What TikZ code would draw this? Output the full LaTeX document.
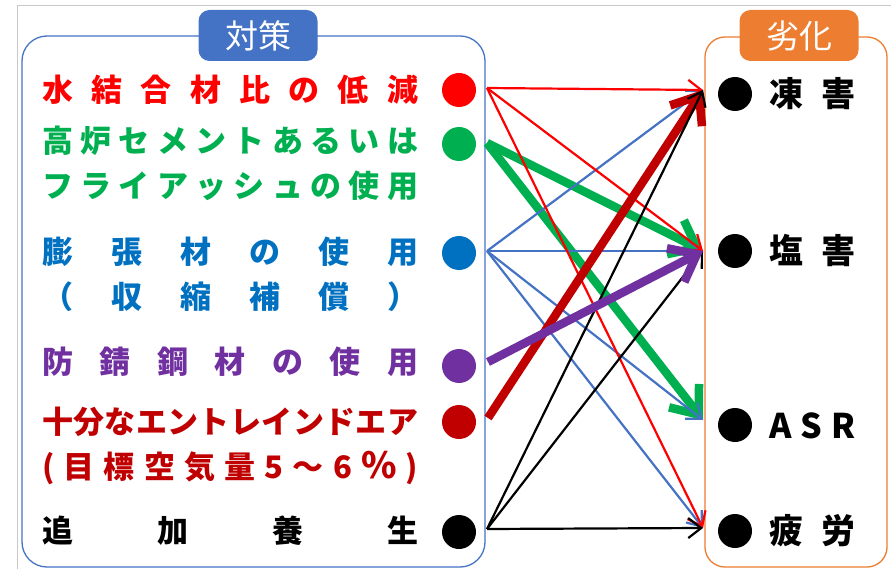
\documentclass[tikz,border=0pt]{standalone}
\usepackage{fontspec}
\setmainfont{Noto Sans CJK JP}
\usetikzlibrary{arrows.meta}
\definecolor{cred}{HTML}{FF0000}
\definecolor{cgreen}{HTML}{00B050}
\definecolor{cblue}{HTML}{0070C0}
\definecolor{cpurple}{HTML}{7030A0}
\definecolor{cdred}{HTML}{C00000}
\definecolor{boxblue}{HTML}{4472C4}
\definecolor{boxorange}{HTML}{ED7D31}
\definecolor{framegray}{HTML}{C8C8C8}
\begin{document}
\begin{tikzpicture}[x=1pt,y=-1pt,
  lefttext/.style={anchor=west,inner sep=0pt,font=\fontsize{31}{37}\selectfont\bfseries},
  righttext/.style={anchor=west,inner sep=0pt,font=\fontsize{34}{40}\selectfont\bfseries},
  titlebox/.style={rounded corners=11pt,minimum width=119pt,minimum height=51pt,inner sep=0pt,text=white,font=\fontsize{33}{38}\selectfont},
  dot/.style={circle,minimum size=34pt,inner sep=0pt},
  thinarrow/.style={line width=2.2pt,-{Straight Barb[length=13pt,width=20pt]}},
  thickarrow/.style={line width=8.5pt,-{Straight Barb[length=24pt,width=38pt]}}]
\useasboundingbox (0,0) rectangle (891,569);
% frame
\draw[framegray,line width=1pt] (17,569) -- (17,6) -- (891,6);
% boxes
\draw[boxblue,line width=1.3pt,rounded corners=25pt] (22,36) rectangle (485,567);
\draw[boxorange,line width=1.3pt,rounded corners=20pt] (705,37) rectangle (887,567);
\node[titlebox,fill=boxblue] (tA) at (258,35.5) {対策};
\node[titlebox,fill=boxorange] (tB) at (799,35.5) {劣化};
% left texts
\node[lefttext,text=cred] (L1) at (42,90) {\makebox[376pt][s]{水\hfill 結\hfill 合\hfill 材\hfill 比\hfill の\hfill 低\hfill 減}};
\node[lefttext,text=cgreen] (L2) at (42,141) {\makebox[376pt][s]{高\hfill 炉\hfill セ\hfill メ\hfill ン\hfill ト\hfill あ\hfill る\hfill い\hfill は}};
\node[lefttext,text=cgreen] (L3) at (42,186) {\makebox[376pt][s]{フ\hfill ラ\hfill イ\hfill ア\hfill ッ\hfill シ\hfill ュ\hfill の\hfill 使\hfill 用}};
\node[lefttext,text=cblue] (L4) at (42,252) {\makebox[376pt][s]{膨\hfill 張\hfill 材\hfill の\hfill 使\hfill 用}};
\node[lefttext,text=cblue] (L5) at (42,297) {\makebox[376pt][s]{（\hfill 収\hfill 縮\hfill 補\hfill 償\hfill ）}};
\node[lefttext,text=cpurple] (L6) at (42,362) {\makebox[376pt][s]{防\hfill 錆\hfill 鋼\hfill 材\hfill の\hfill 使\hfill 用}};
\node[lefttext,text=cdred] (L7) at (42,422) {\makebox[376pt][s]{十\hfill 分\hfill な\hfill エ\hfill ン\hfill ト\hfill レ\hfill イ\hfill ン\hfill ド\hfill エ\hfill ア}};
\node[lefttext,text=cdred] (L8) at (42,468) {\makebox[376pt][s]{(\hfill 目\hfill 標\hfill 空\hfill 気\hfill 量\hfill 5\hfill ～\hfill 6\hfill {\fontsize{36}{40}\selectfont\%}\hfill )}};
\node[lefttext,text=black] (L9) at (42,531) {\makebox[376pt][s]{追\hfill 加\hfill 養\hfill 生}};
% left dots
\node[dot,fill=cred] (d1) at (459,90) {};
\node[dot,fill=cgreen] (d2) at (459,144) {};
\node[dot,fill=cblue] (d3) at (459,253) {};
\node[dot,fill=cpurple] (d4) at (459,366) {};
\node[dot,fill=cdred] (d5) at (459,422) {};
\node[dot,fill=black] (d6) at (459,532) {};
% right items
\node[dot,fill=black] (r1) at (735,94) {};
\node[dot,fill=black] (r2) at (735,251) {};
\node[dot,fill=black] (r3) at (735,425) {};
\node[dot,fill=black] (r4) at (735,531) {};
\node[righttext] (R1) at (769,94) {\makebox[86pt][s]{凍\hfill 害}};
\node[righttext] (R2) at (769,251) {\makebox[86pt][s]{塩\hfill 害}};
\node[righttext] (R3) at (769,426) {\makebox[86pt][s]{A\hfill S\hfill R}};
\node[righttext] (R4) at (769,531) {\makebox[86pt][s]{疲\hfill 労}};
% connector ends
\coordinate (s1) at (487,88);
\coordinate (s2) at (487,143);
\coordinate (s3) at (487,251);
\coordinate (s4) at (488,362);
\coordinate (s5) at (488,418);
\coordinate (s6) at (487,529);
\coordinate (t1) at (703,90);
\coordinate (t2) at (703,251);
\coordinate (t3) at (703,420);
\coordinate (t4) at (703,528);
% thick green
\draw[thickarrow,cgreen] (s2) -- (t2);
\draw[thickarrow,cgreen] (s2) -- (t3);
% thin blue
\draw[thinarrow,boxblue] (s3) -- (t1);
\draw[thinarrow,boxblue] (s3) -- (t2);
\draw[thinarrow,boxblue] (s3) -- (t3);
\draw[thinarrow,boxblue] (s3) -- (t4);
% thin red
\draw[thinarrow,cred] (s1) -- (t1);
\draw[thinarrow,cred] (s1) -- (t2);
\draw[thinarrow,cred] (s1) -- (t4);
% thick dark red
\draw[thickarrow,cdred] (s5) -- (t1);
% thin black
\draw[thinarrow,black] (s6) -- (t1);
\draw[thinarrow,black] (s6) -- (t2);
\draw[thinarrow,black] (s6) -- (t4);
% thick purple
\draw[thickarrow,cpurple] (s4) -- (t2);
\end{tikzpicture}
\end{document}
